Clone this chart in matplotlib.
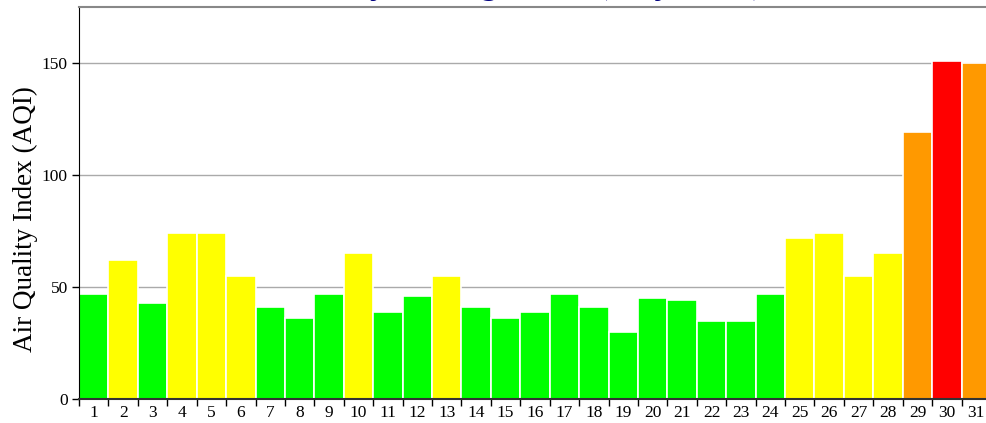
import matplotlib.pyplot as plt

days = list(range(1, 32))
aqi = [47, 62, 43, 74, 74, 55, 41, 36, 47, 65,
       39, 46, 55, 41, 36, 39, 47, 41, 30, 45,
       44, 35, 35, 47, 72, 74, 55, 65, 119, 151, 150]


def aqi_color(v):
    if v <= 50:
        return '#00ff00'
    elif v <= 100:
        return '#ffff00'
    elif v <= 150:
        return '#ff9900'
    return '#ff0000'


colors = [aqi_color(v) for v in aqi]

plt.rcParams['font.family'] = ['Liberation Serif', 'DejaVu Serif']

fig = plt.figure(figsize=(9.87, 4.23), dpi=100)
ax = fig.add_axes([79 / 987, 1 - 399 / 423, (991 - 79) / 987, (399 - 7) / 423])

ax.bar(days, aqi, width=1.0, color=colors, edgecolor='white', linewidth=1.2, zorder=2)

ax.set_xlim(0.5, 31.5)
ax.set_ylim(0, 175)
ax.set_yticks([0, 50, 100, 150])
ax.yaxis.grid(True, color='#aaaaaa', linewidth=1, zorder=0)
ax.set_axisbelow(True)

# ticks sit between bars, labels in the middle
ax.set_xticks([d + 0.5 for d in days[:-1]] + [0.5])
ax.set_xticklabels([])
ax.set_xticks(days, minor=True)
ax.set_xticklabels([str(d) for d in days], minor=True, fontsize=12.5)
ax.tick_params(axis='x', which='minor', length=0, pad=4)
ax.tick_params(axis='x', which='major', length=5, width=1, color='black')
ax.tick_params(axis='y', length=5, width=1, labelsize=12.5, pad=3)

ax.spines['right'].set_visible(False)
ax.spines['top'].set_color('#888888')
ax.spines['top'].set_linewidth(1.5)
ax.spines['left'].set_color('black')
ax.spines['bottom'].set_color('#333333')
ax.spines['bottom'].set_linewidth(1.5)

ax.set_ylabel('Air Quality Index (AQI)', fontsize=19.5, labelpad=2)
ax.yaxis.set_label_coords(-0.045, 0.46)

# title sits mostly above the picture, as in the reference
fig.text(0.546, 1.016, 'Daily Average AQI (July 2019)', ha='center', va='baseline',
         fontsize=26, fontweight='bold', fontstyle='italic', color='#000080')

fig.savefig('out.png', dpi=100)
